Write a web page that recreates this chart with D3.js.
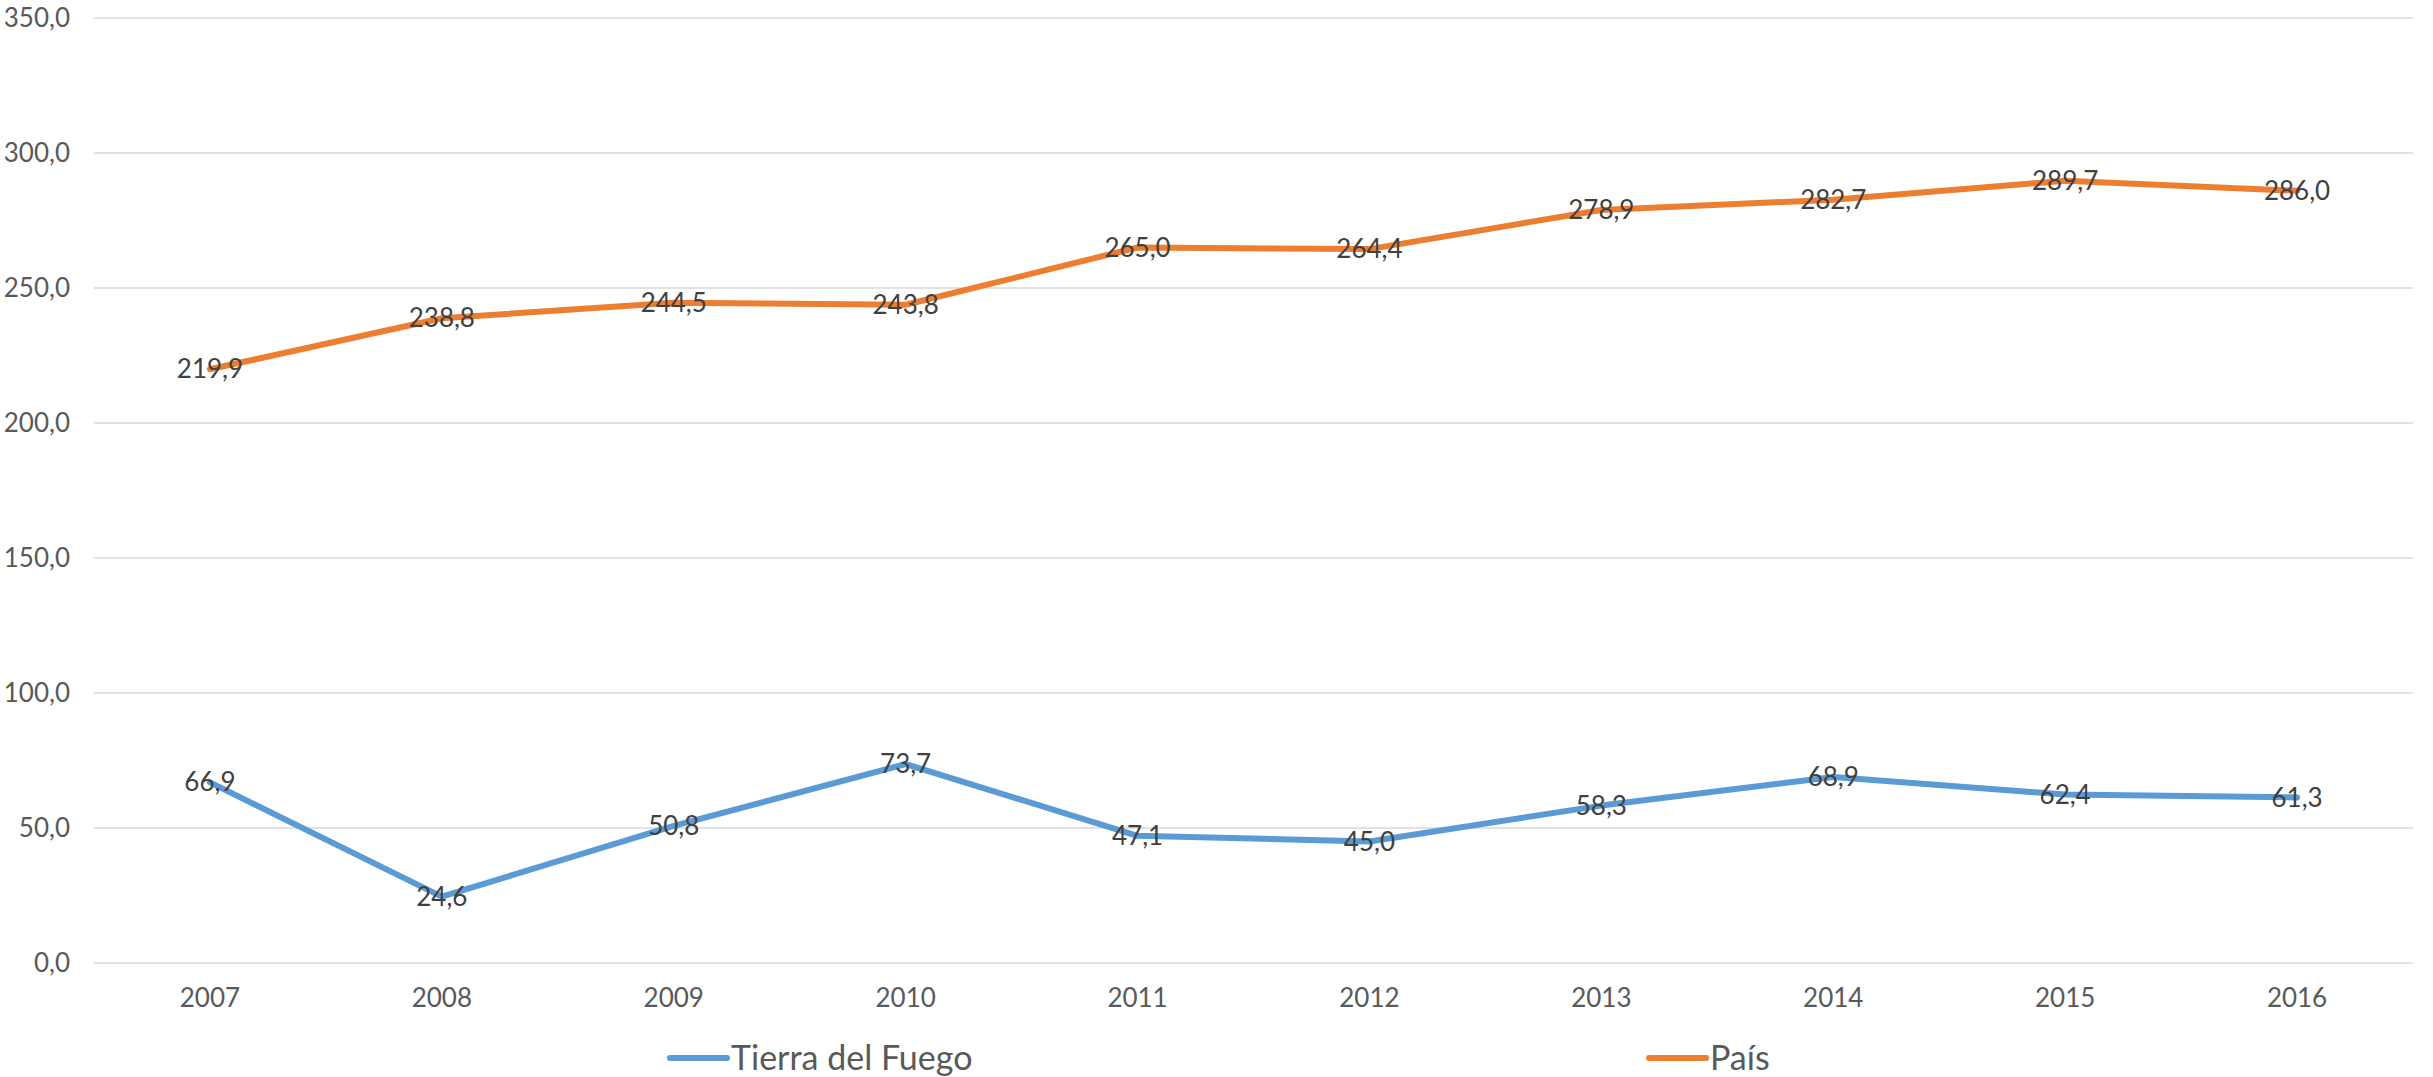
<!DOCTYPE html>
<html>
<head>
<meta charset="utf-8">
<script src="https://cdn.jsdelivr.net/npm/d3@7"></script>
<style>
  body { margin: 0; background: #fff; }
  svg { display: block; font-family: Lato, "Open Sans", sans-serif; }
</style>
</head>
<body>
<div id="chart"></div>
<script>
var years = ['2007', '2008', '2009', '2010', '2011', '2012', '2013', '2014', '2015', '2016'];
var tierraDelFuego = [66.9, 24.6, 50.8, 73.7, 47.1, 45.0, 58.3, 68.9, 62.4, 61.3];
var pais = [219.9, 238.8, 244.5, 243.8, 265.0, 264.4, 278.9, 282.7, 289.7, 286.0];
var yTicks = [0, 50, 100, 150, 200, 250, 300, 350];
var seriesNames = ['Tierra del Fuego', 'País'];

var width = 2433,
	height = 1077,
	margin = { top: 18, right: 20, bottom: 114, left: 94 };

var svg = d3.select('#chart').append('svg')
	.attr('width', width)
	.attr('height', height);

var x = d3.scaleBand()
	.domain(years)
	.range([margin.left, width - margin.right]);

var y = d3.scaleLinear()
	.domain([0, 350])
	.range([height - margin.bottom, margin.top]);

var fmt = function (v) { return d3.format('.1f')(v).replace('.', ','); };

// grid lines
svg.append('g')
	.selectAll('line')
	.data(yTicks)
	.enter().append('line')
	.attr('x1', margin.left)
	.attr('x2', width - margin.right)
	.attr('y1', function (d) { return y(d); })
	.attr('y2', function (d) { return y(d); })
	.style('stroke', '#d9d9d9')
	.style('stroke-width', 1.5);

// y tick labels
svg.append('g')
	.selectAll('text')
	.data(yTicks)
	.enter().append('text')
	.attr('x', 70)
	.attr('y', function (d) { return y(d); })
	.attr('dy', '0.35em')
	.attr('text-anchor', 'end')
	.style('font-size', '26px')
	.style('fill', '#595959')
	.text(fmt);

// x tick labels
svg.append('g')
	.selectAll('text')
	.data(years)
	.enter().append('text')
	.attr('x', function (d) { return x(d) + x.bandwidth() / 2; })
	.attr('y', y(0) + 44)
	.attr('text-anchor', 'middle')
	.style('font-size', '26px')
	.style('fill', '#595959')
	.text(function (d) { return d; });

var series = [
	{ name: seriesNames[0], values: tierraDelFuego, color: '#5b9bd5' },
	{ name: seriesNames[1], values: pais, color: '#ed7d31' }
];

var line = d3.line()
	.x(function (d, i) { return x(years[i]) + x.bandwidth() / 2; })
	.y(function (d) { return y(d); });

series.forEach(function (s) {
	svg.append('path')
		.datum(s.values)
		.attr('d', line)
		.style('fill', 'none')
		.style('stroke', s.color)
		.style('stroke-width', 6)
		.style('stroke-linejoin', 'round')
		.style('stroke-linecap', 'round');
});

series.forEach(function (s) {
	svg.append('g')
		.selectAll('text')
		.data(s.values)
		.enter().append('text')
		.attr('x', function (d, i) { return x(years[i]) + x.bandwidth() / 2; })
		.attr('y', function (d) { return y(d); })
		.attr('dy', '0.35em')
		.attr('text-anchor', 'middle')
		.style('font-size', '26px')
		.style('fill', '#404040')
		.text(fmt);
});

// legend
var legendX = [670, 1649];
series.forEach(function (s, i) {
	var lg = svg.append('g').attr('transform', 'translate(' + legendX[i] + ',1058)');
	lg.append('line')
		.attr('x1', 0)
		.attr('x2', 57)
		.style('stroke', s.color)
		.style('stroke-width', 6)
		.style('stroke-linecap', 'round');
	lg.append('text')
		.attr('x', 61)
		.attr('dy', '0.35em')
		.style('font-size', '34px')
		.style('fill', '#595959')
		.text(s.name);
});
</script>
</body>
</html>
